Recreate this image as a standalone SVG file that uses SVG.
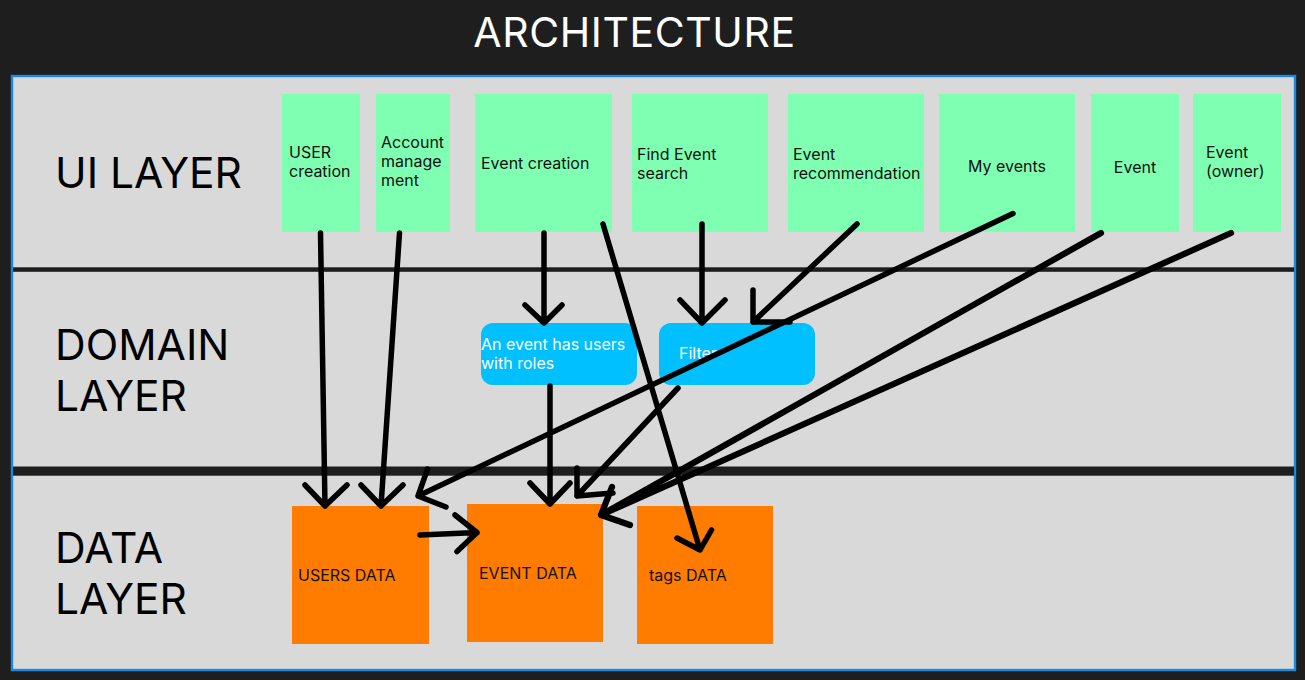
<svg xmlns="http://www.w3.org/2000/svg" width="1305" height="680" viewBox="0 0 1305 680">
<defs>
<style>
.big{font-family:Inter,"Noto Sans","Liberation Sans",sans-serif;font-size:42.5px;fill:#000}
.lbl{font-family:Inter,"Noto Sans","Liberation Sans",sans-serif;font-size:16px;fill:#111}
.wl{font-family:Inter,"Noto Sans","Liberation Sans",sans-serif;font-size:16px;fill:#fff}
.ui{fill:#7fffb2}
.dom{fill:#00c0ff}
.dat{fill:#ff7c00}
.c{fill:none;stroke:#000;stroke-width:5.5;stroke-linecap:round;stroke-linejoin:round}
.cw{fill:none;stroke:#000;stroke-width:6.2;stroke-linecap:round;stroke-linejoin:round}
.sep{fill:#1e1e1e}
</style>
</defs>
<rect width="1305" height="680" fill="#1e1e1e"/>
<text x="634.5" y="47" text-anchor="middle" font-family="Inter,'Noto Sans','Liberation Sans',sans-serif" font-size="41" letter-spacing="0.6" fill="#fff">ARCHITECTURE</text>
<rect x="12" y="76" width="1283" height="594" fill="#d9d9d9" stroke="#1a8ae0" stroke-width="2.4"/>
<rect class="sep" x="13" y="267.3" width="1281" height="4.5"/>
<rect class="sep" x="13" y="466.5" width="1281" height="9.2"/>
<g id="layer-labels">
<text class="big" x="55" y="188">UI LAYER</text>
<text class="big" x="55" y="359.5">DOMAIN</text>
<text class="big" x="55" y="410.5">LAYER</text>
<text class="big" x="55" y="562.5">DATA</text>
<text class="big" x="55" y="614">LAYER</text>
</g>
<g id="ui-user-creation"><rect class="ui" x="282" y="94" width="78" height="138"/><text class="lbl" x="289" y="158">USER</text><text class="lbl" x="289" y="177">creation</text></g>
<g id="ui-account"><rect class="ui" x="376" y="94" width="74" height="138"/><text class="lbl" x="381" y="147.5">Account</text><text class="lbl" x="381" y="167">manage</text><text class="lbl" x="381" y="186">ment</text></g>
<g id="ui-event-creation"><rect class="ui" x="475" y="94" width="137" height="138"/><text class="lbl" x="481" y="169">Event creation</text></g>
<g id="ui-find-event"><rect class="ui" x="632" y="94" width="136" height="138"/><text class="lbl" x="637" y="159.5">Find Event</text><text class="lbl" x="637" y="178.5">search</text></g>
<g id="ui-recommendation"><rect class="ui" x="788" y="94" width="136" height="138"/><text class="lbl" x="793" y="159.5">Event</text><text class="lbl" x="793" y="178.5">recommendation</text></g>
<g id="ui-my-events"><rect class="ui" x="939" y="94" width="136" height="138"/><text class="lbl" x="1007" y="172" text-anchor="middle">My events</text></g>
<g id="ui-event"><rect class="ui" x="1091" y="94" width="88" height="138"/><text class="lbl" x="1135" y="173" text-anchor="middle">Event</text></g>
<g id="ui-event-owner"><rect class="ui" x="1193" y="94" width="88" height="138"/><text class="lbl" x="1206" y="157.5">Event</text><text class="lbl" x="1206" y="176.5">(owner)</text></g>
<g id="dom-roles"><rect class="dom" x="481" y="323" width="156" height="62" rx="12"/><text class="wl" x="481" y="350">An event has users</text><text class="wl" x="481" y="369">with roles</text></g>
<g id="dom-filter"><rect class="dom" x="659" y="323" width="156" height="62" rx="12"/><text class="wl" x="679" y="359">Filter</text></g>
<g id="data-users"><rect class="dat" x="292" y="506" width="137" height="138"/><text class="lbl" x="298" y="581">USERS DATA</text></g>
<g id="data-event"><rect class="dat" x="467" y="504" width="136" height="138"/><text class="lbl" x="479" y="579">EVENT DATA</text></g>
<g id="data-tags"><rect class="dat" x="637" y="506" width="136" height="138"/><text class="lbl" x="649" y="581">tags DATA</text></g>
<g id="connectors">
<path class="c" d="M320.5 233 L325 506 M305 485 L325 506 L347 485"/>
<path class="c" d="M399.5 233 L381 506 M361 485 L381 506 L403 485"/>
<path class="c" d="M544 233 L544 323 M525 305 L544 323 L562 305"/>
<path class="c" d="M550 386 L550 504 M530 483 L550 504 L570 483"/>
<path class="c" d="M603 224 L700 550 M677 538 L700 550 L711.5 530"/>
<path class="c" d="M702 224 L702 323 M680 300 L702 323 L725 300"/>
<path class="c" d="M857 224 L753 322 M753 290 L753 322 L790 322"/>
<path class="c" d="M1013 213.5 L418 496 M427.5 469 L418 496 L446 507"/>
<path class="c" d="M678 388 L577 496 M577 468 L577 496 L613 493"/>
<path class="cw" d="M1101 233 L601 515 M1231 233 L601 515 M612 487 L601 515 L630 525"/>
<path class="c" d="M420 535 L477 532.5 M455 515 L477 532.5 L457 551.5"/>
</g>
</svg>
